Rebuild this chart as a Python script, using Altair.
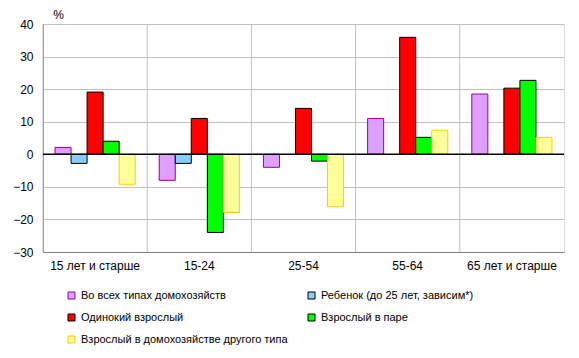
import altair as alt
import pandas as pd

categories = ["15 лет и старше", "15-24", "25-54", "55-64", "65 лет и старше"]
series = [
    "Во всех типах домохозяйств",
    "Ребенок (до 25 лет, зависим*)",
    "Одинокий взрослый",
    "Взрослый в паре",
    "Взрослый в домохозяйстве другого типа",
]
v_all = [2.1, -8.0, -4.0, 11.0, 18.5]
v_child = [-2.8, -2.8, None, None, None]
v_single = [19.1, 11.0, 14.1, 35.9, 20.3]
v_couple = [4.0, -24.0, -2.1, 5.2, 22.7]
v_other = [-9.2, -17.9, -16.1, 7.4, 5.2]
y_ticks = [-30, -20, -10, 0, 10, 20, 30, 40]

fills = ["#DDA0FF", "#87CEFA", "#FF0000", "#00FF00", "#FFFF99"]
strokes = ["#990099", "#000000", "#000000", "#000000", "#FFCC00"]

rows = []
for s, vals in zip(series, [v_all, v_child, v_single, v_couple, v_other]):
    for c, v in zip(categories, vals):
        if v is not None:
            rows.append({"cat": c, "series": s, "value": v})
df = pd.DataFrame(rows)
cat_df = pd.DataFrame({"cat": categories})
zero_df = pd.DataFrame({"value": [0]})

FONT = "Liberation Sans"

xscale = alt.Scale(domain=categories, paddingInner=0, paddingOuter=0)
yscale = alt.Scale(domain=[-30, 40], nice=False)

yaxis = alt.Axis(values=y_ticks, title="%", titleAngle=0,
                 titleX=15, titleY=-10, titleAlign="center", titleBaseline="middle",
                 titleFont=FONT, titleFontSize=12, titleFontWeight="normal",
                 titleColor="black", labelOverlap=False, labelFlush=False,
                 labelFont=FONT, labelFontSize=12, labelColor="black",
                 ticks=False, labelPadding=10, domainColor="#808080",
                 gridColor="#C0C0C0", grid=True)

leg = alt.Legend(
    title=None, orient="none", legendX=23, legendY=266, columns=2, direction="horizontal",
    symbolType="square", symbolSize=49, symbolStrokeWidth=1,
    labelFont=FONT, labelFontSize=11, labelColor="black", labelLimit=400,
    labelOffset=4, rowPadding=10, columnPadding=18, padding=0,
)

grid_x = alt.Chart(cat_df).mark_rule(color="#C0C0C0", strokeWidth=1).encode(
    x=alt.X("cat:N", sort=categories, scale=xscale, bandPosition=0,
            axis=alt.Axis(title=None, labelAngle=0, labelFontSize=12, labelFont=FONT,
                          labelColor="black", ticks=False, labelPadding=8,
                          domainColor="#808080", grid=False)),
)

bars = alt.Chart(df).mark_bar(strokeWidth=1).encode(
    x=alt.X("cat:N", sort=categories, scale=xscale),
    xOffset=alt.XOffset("series:N", sort=series,
                        scale=alt.Scale(domain=series, paddingOuter=0.75, paddingInner=0)),
    y=alt.Y("value:Q", scale=yscale, axis=yaxis),
    fill=alt.Fill("series:N", sort=series, scale=alt.Scale(domain=series, range=fills), legend=leg),
    stroke=alt.Stroke("series:N", sort=series, scale=alt.Scale(domain=series, range=strokes), legend=leg),
)

zero = alt.Chart(zero_df).mark_rule(color="black", strokeWidth=1.5).encode(
    y=alt.Y("value:Q", scale=yscale, axis=yaxis)
)

chart = alt.layer(grid_x, bars, zero).properties(
    width=521, height=228,
    autosize=alt.AutoSizeParams(type="none"),
    padding={"left": 35, "top": 16, "right": 7, "bottom": 98},
).configure_view(stroke="#808080").configure(background="white")

chart.save("out.html", embed_options={"renderer": "svg", "actions": False})
